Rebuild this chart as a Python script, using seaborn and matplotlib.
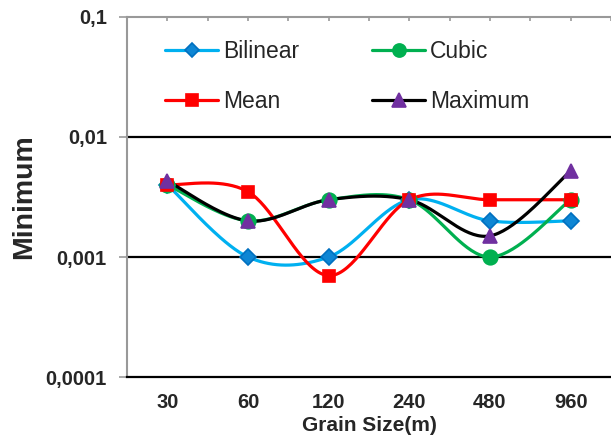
import numpy as np
import pandas as pd
import matplotlib
matplotlib.use("Agg")
import matplotlib.pyplot as plt
from matplotlib.lines import Line2D
from matplotlib.ticker import FixedLocator, NullLocator
import seaborn as sns

categories = ["30", "60", "120", "240", "480", "960"]
bilinear = [0.004, 0.001, 0.001, 0.003, 0.002, 0.002]
cubic = [0.004, 0.002, 0.003, 0.003, 0.001, 0.003]
mean = [0.004, 0.0035, 0.0007, 0.003, 0.003, 0.003]
maximum = [0.0043, 0.002, 0.003, 0.003, 0.0015, 0.0052]
ytick_vals = [0.0001, 0.001, 0.01, 0.1]
ytick_labels = ["0,0001", "0,001", "0,01", "0,1"]

sns.set_style("white")
plt.rcParams["font.family"] = ["Liberation Sans", "DejaVu Sans"]

fig = plt.figure(figsize=(6.11, 4.36), dpi=100)
ax = fig.add_axes([127 / 611, 1 - 377 / 436, 1 - 127 / 611, 360 / 436])


def smooth(xs, ys, n=40):
    P = np.column_stack([xs, np.log10(ys)])
    out = []
    t = np.linspace(0, 1, n)[:, None]
    for i in range(len(P) - 1):
        p0 = P[max(i - 1, 0)]
        p1 = P[i]
        p2 = P[i + 1]
        p3 = P[min(i + 2, len(P) - 1)]
        c1 = p1 + (p2 - p0) / 6
        c2 = p2 - (p3 - p1) / 6
        B = (1 - t) ** 3 * p1 + 3 * (1 - t) ** 2 * t * c1 + 3 * (1 - t) * t ** 2 * c2 + t ** 3 * p2
        out.append(B if i == 0 else B[1:])
    B = np.vstack(out)
    return B[:, 0], 10 ** B[:, 1]


series = [
    ("Bilinear", bilinear, "#00B0F0", "D", "#0E86D4", "#0070C0", 8),
    ("Cubic", cubic, "#00B050", "o", "#00B050", "#00B050", 10.5),
    ("Mean", mean, "#FF0000", "s", "#FF0000", "#FF0000", 9),
    ("Maximum", maximum, "#000000", "^", "#7030A0", "#7030A0", 10.5),
]

xs = np.arange(len(categories))
handles = {}
for name, vals, lc, mk, mfc, mec, ms in series:
    sx, sy = smooth(xs, vals)
    sns.lineplot(x=sx, y=sy, sort=False, estimator=None, color=lc, lw=2.3, ax=ax, zorder=3)
for name, vals, lc, mk, mfc, mec, ms in series:
    ax.plot(xs, vals, linestyle="none", marker=mk, ms=ms, mfc=mfc, mec=mec, mew=1.2, zorder=4)
    handles[name] = Line2D([0], [0], color=lc, lw=2.3, marker=mk, ms=ms * 0.9, mfc=mfc, mec=mec, mew=1.2)

ax.set_yscale("log")
ax.set_ylim(1e-4, 1e-1)
ax.set_xlim(-0.5, 5.5)
ax.yaxis.set_major_locator(FixedLocator(ytick_vals))
ax.yaxis.set_minor_locator(NullLocator())
ax.set_yticklabels(ytick_labels)
ax.set_xticks(xs)
ax.set_xticklabels(categories)
ax.set_xticks(np.arange(-0.5, 5.6, 0.5), minor=True)

for v in [0.001, 0.01]:
    ax.axhline(v, color="black", lw=1.6, zorder=1)

ax.spines["right"].set_visible(False)
ax.spines["left"].set_color("#999999")
ax.spines["left"].set_linewidth(1.5)
ax.spines["top"].set_color("#999999")
ax.spines["top"].set_linewidth(1.5)
ax.spines["bottom"].set_color("black")
ax.spines["bottom"].set_linewidth(1.6)

ax.tick_params(axis="x", which="both", bottom=False, top=True, labelbottom=True, labeltop=False,
               direction="in", color="#999999", length=3, width=1.2)
ax.tick_params(axis="x", which="major", labelsize=14.5, pad=11.5)
ax.tick_params(axis="y", which="major", left=True, direction="out", color="#999999", length=5.5,
               width=1.2, labelsize=14.5, pad=9)
for lab in ax.get_xticklabels() + ax.get_yticklabels():
    lab.set_fontweight("bold")

ax.set_xlabel("Grain Size(m)", fontsize=15, fontweight="bold", labelpad=3)
ax.set_ylabel("Minimum", fontsize=20.5, fontweight="bold", labelpad=6)

order = ["Bilinear", "Mean", "Cubic", "Maximum"]
ax.legend([handles[n] for n in order], order, ncol=2, frameon=False, fontsize=16.5,
          loc="upper left", bbox_to_anchor=(0.06, 0.962), handlelength=2.3,
          columnspacing=3.2, labelspacing=1.2, handletextpad=0.22, borderaxespad=0)

fig.savefig("out.png", dpi=100)
